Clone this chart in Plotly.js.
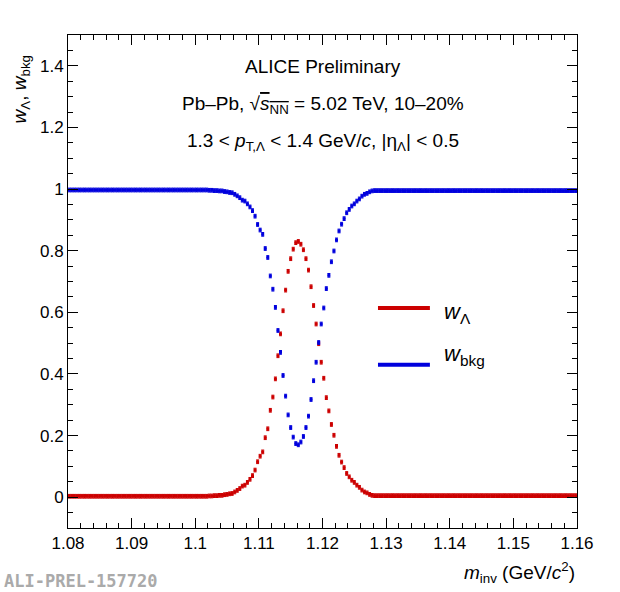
<!DOCTYPE html>
<html>
<head>
<meta charset="utf-8">
<script src="https://cdn.plot.ly/plotly-3.0.1.min.js"></script>
<style>body{margin:0;background:#fff}</style>
</head>
<body>
<div id="chart" style="width:620px;height:592px"></div>
<script>
// histogram binning: 200 bins between 1.08 and 1.16 GeV/c^2
const binLow = 1.08;
const binWidth = 0.0004;

// w_Lambda per bin
const wLambda = [
  0.003, 0.003, 0.003, 0.003, 0.003, 0.003, 0.003, 0.003, 0.003, 0.003,
  0.003, 0.003, 0.003, 0.003, 0.003, 0.003, 0.003, 0.003, 0.003, 0.003,
  0.003, 0.003, 0.003, 0.003, 0.003, 0.003, 0.003, 0.003, 0.003, 0.003,
  0.003, 0.003, 0.003, 0.003, 0.003, 0.003, 0.003, 0.003, 0.003, 0.003,
  0.003, 0.003, 0.003, 0.003, 0.003, 0.003, 0.003, 0.003, 0.003, 0.003,
  0.003, 0.003, 0.003, 0.003, 0.003, 0.004, 0.004, 0.005, 0.005, 0.006,
  0.006, 0.008, 0.009, 0.011, 0.012, 0.017, 0.022, 0.028, 0.036, 0.039,
  0.048, 0.058, 0.070, 0.088, 0.115, 0.133, 0.147, 0.193, 0.222, 0.282,
  0.325, 0.384, 0.459, 0.530, 0.605, 0.672, 0.733, 0.774, 0.805, 0.826,
  0.830, 0.821, 0.803, 0.774, 0.737, 0.683, 0.622, 0.562, 0.498, 0.438,
  0.386, 0.323, 0.280, 0.236, 0.201, 0.165, 0.136, 0.114, 0.096, 0.077,
  0.066, 0.055, 0.048, 0.039, 0.032, 0.023, 0.017, 0.014, 0.009, 0.006,
  0.005, 0.005, 0.005, 0.005, 0.005, 0.005, 0.005, 0.005, 0.005, 0.005,
  0.005, 0.005, 0.005, 0.005, 0.005, 0.005, 0.005, 0.005, 0.005, 0.005,
  0.005, 0.005, 0.005, 0.005, 0.005, 0.005, 0.005, 0.005, 0.005, 0.005,
  0.005, 0.005, 0.005, 0.005, 0.005, 0.005, 0.005, 0.005, 0.005, 0.005,
  0.005, 0.005, 0.005, 0.005, 0.005, 0.005, 0.005, 0.005, 0.005, 0.005,
  0.005, 0.005, 0.005, 0.005, 0.005, 0.005, 0.005, 0.005, 0.005, 0.005,
  0.005, 0.005, 0.005, 0.005, 0.005, 0.005, 0.005, 0.005, 0.005, 0.005,
  0.005, 0.005, 0.005, 0.005, 0.005, 0.005, 0.005, 0.005, 0.005, 0.005,
];

// w_bkg per bin
const wBkg = [
  0.997, 0.997, 0.997, 0.997, 0.997, 0.997, 0.997, 0.997, 0.997, 0.997,
  0.997, 0.997, 0.997, 0.997, 0.997, 0.997, 0.997, 0.997, 0.997, 0.997,
  0.997, 0.997, 0.997, 0.997, 0.997, 0.997, 0.997, 0.997, 0.997, 0.997,
  0.997, 0.997, 0.997, 0.997, 0.997, 0.997, 0.997, 0.997, 0.997, 0.997,
  0.997, 0.997, 0.997, 0.997, 0.997, 0.997, 0.997, 0.997, 0.997, 0.997,
  0.997, 0.997, 0.997, 0.997, 0.997, 0.996, 0.996, 0.995, 0.995, 0.994,
  0.994, 0.992, 0.991, 0.989, 0.988, 0.983, 0.978, 0.972, 0.964, 0.961,
  0.952, 0.942, 0.930, 0.912, 0.885, 0.867, 0.853, 0.807, 0.778, 0.718,
  0.675, 0.616, 0.541, 0.470, 0.395, 0.328, 0.267, 0.226, 0.195, 0.174,
  0.170, 0.179, 0.197, 0.226, 0.263, 0.317, 0.378, 0.438, 0.502, 0.562,
  0.614, 0.677, 0.720, 0.764, 0.799, 0.835, 0.864, 0.886, 0.904, 0.923,
  0.934, 0.945, 0.952, 0.961, 0.968, 0.977, 0.983, 0.986, 0.991, 0.994,
  0.995, 0.995, 0.995, 0.995, 0.995, 0.995, 0.995, 0.995, 0.995, 0.995,
  0.995, 0.995, 0.995, 0.995, 0.995, 0.995, 0.995, 0.995, 0.995, 0.995,
  0.995, 0.995, 0.995, 0.995, 0.995, 0.995, 0.995, 0.995, 0.995, 0.995,
  0.995, 0.995, 0.995, 0.995, 0.995, 0.995, 0.995, 0.995, 0.995, 0.995,
  0.995, 0.995, 0.995, 0.995, 0.995, 0.995, 0.995, 0.995, 0.995, 0.995,
  0.995, 0.995, 0.995, 0.995, 0.995, 0.995, 0.995, 0.995, 0.995, 0.995,
  0.995, 0.995, 0.995, 0.995, 0.995, 0.995, 0.995, 0.995, 0.995, 0.995,
  0.995, 0.995, 0.995, 0.995, 0.995, 0.995, 0.995, 0.995, 0.995, 0.995,
];

const xTicks = [1.08, 1.09, 1.1, 1.11, 1.12, 1.13, 1.14, 1.15, 1.16];
const xTickLabels = ['1.08', '1.09', '1.1', '1.11', '1.12', '1.13', '1.14', '1.15', '1.16'];
const yTicks = [0, 0.2, 0.4, 0.6, 0.8, 1, 1.2, 1.4];
const yTickLabels = ['0', '0.2', '0.4', '0.6', '0.8', '1', '1.2', '1.4'];

const binCentres = wLambda.map((_, i) => binLow + binWidth * (i + 0.5));

const red = '#cc0000';
const blue = '#0000dd';
const font = 'Liberation Sans, Arial, sans-serif';

function series(y, colour) {
  return {
    x: binCentres, y: y, type: 'scatter', mode: 'markers',
    marker: {symbol: 'square', size: 3, color: colour},
    error_y: {type: 'constant', value: 0.006, color: colour, thickness: 1, width: 1.5},
    error_x: {type: 'constant', value: binWidth / 2, color: colour, thickness: 1, width: 0},
    showlegend: false, hoverinfo: 'x+y',
  };
}

const axisBase = {
  showgrid: false, zeroline: false, showline: true, mirror: 'allticks',
  linecolor: '#000', linewidth: 1, ticks: 'inside', ticklen: 10,
  tickcolor: '#000', tickfont: {family: font, size: 17, color: '#000'},
};

const layout = {
  width: 620, height: 592,
  margin: {l: 68, r: 43, t: 35, b: 64},
  paper_bgcolor: '#fff', plot_bgcolor: '#fff',
  font: {family: font, color: '#000'},
  xaxis: Object.assign({}, axisBase, {
    range: [1.08, 1.16], tickvals: xTicks, ticktext: xTickLabels,
    minor: {ticks: 'inside', ticklen: 5, tickcolor: '#000', dtick: 0.002},
  }),
  yaxis: Object.assign({}, axisBase, {
    range: [-0.1, 1.5], tickvals: yTicks, ticktext: yTickLabels,
    minor: {ticks: 'inside', ticklen: 5, tickcolor: '#000', dtick: 0.05},
  }),
  shapes: [
    {type: 'line', xref: 'paper', yref: 'paper', x0: 0.609, x1: 0.711, y0: 0.446, y1: 0.446,
      line: {color: red, width: 4}},
    {type: 'line', xref: 'paper', yref: 'paper', x0: 0.609, x1: 0.711, y0: 0.331, y1: 0.331,
      line: {color: blue, width: 4}},
  ],
  annotations: [
    {text: 'ALICE Preliminary', x: 0.5, y: 0.962},
    {text: 'Pb\u2013Pb, \u221A<span style="text-decoration:overline"><i>s</i><sub>NN</sub></span> = 5.02 TeV, 10\u201320%', x: 0.5, y: 0.887},
    {text: '1.3 &lt; <i>p</i><sub>T,\u039B</sub> &lt; 1.4 GeV/<i>c</i>, |\u03B7<sub>\u039B</sub>| &lt; 0.5', x: 0.5, y: 0.812},
    {text: '<i>w</i><sub>\u039B</sub>', x: 0.735, y: 0.436, xanchor: 'left', font: {family: font, size: 22, color: '#000'}},
    {text: '<i>w</i><sub>bkg</sub>', x: 0.735, y: 0.318, xanchor: 'left', font: {family: font, size: 22, color: '#000'}},
    {text: '<i>w</i><sub>\u039B</sub>, <i>w</i><sub>bkg</sub>', x: -0.092, y: 0.89, textangle: -90,
      xanchor: 'center', yanchor: 'middle'},
    {text: '<i>m</i><sub>inv</sub> (GeV/<i>c</i><sup>2</sup>)', x: 1, y: -0.09, xanchor: 'right', yanchor: 'middle'},
    {text: '<b>ALI-PREL-157720</b>', x: -0.13, y: -0.108, xanchor: 'left', yanchor: 'middle',
      font: {family: 'DejaVu Sans Mono, monospace', size: 17, color: '#aaaaaa'}},
  ].map(a => Object.assign({xref: 'paper', yref: 'paper', showarrow: false,
    font: {family: font, size: 19, color: '#000'}}, a)),
};

Plotly.newPlot('chart', [series(wLambda, red), series(wBkg, blue)], layout, {displayModeBar: false});
</script>
</body>
</html>
